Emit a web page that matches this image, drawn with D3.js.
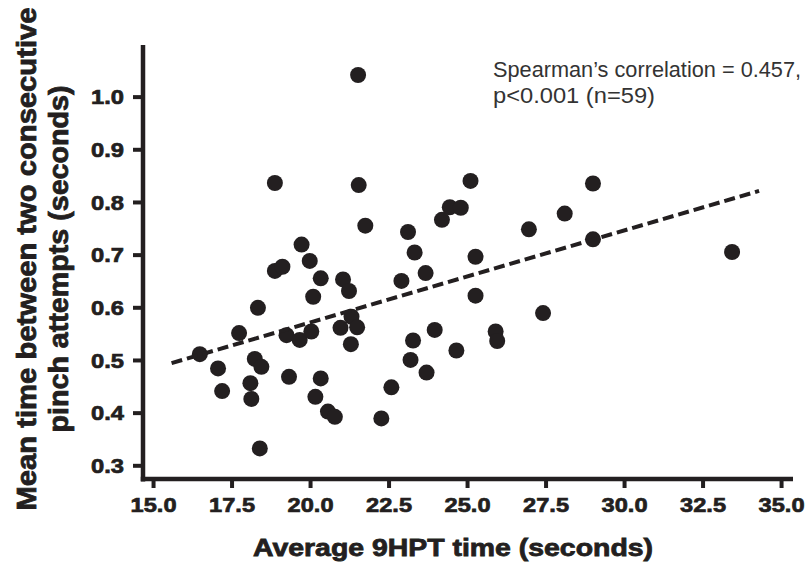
<!DOCTYPE html>
<html>
<head>
<meta charset="utf-8">
<script src="https://cdn.jsdelivr.net/npm/d3@7"></script>
<style>
  html, body { margin: 0; padding: 0; background: #fff; }
  svg { display: block; }
</style>
</head>
<body>
<svg id="chart" width="809" height="564"></svg>
<script>
// ---- data ----
const xValues = [21.53, 18.88, 21.55, 21.76, 19.73, 19.99, 18.88, 19.12, 20.34, 21.05,
                 21.24, 20.10, 22.91, 16.49, 17.74, 18.34, 17.07, 17.20, 18.24, 18.45,
                 18.10, 18.13, 18.40, 19.25, 19.67, 20.04, 19.33, 20.17, 20.34, 20.57,
                 20.79, 22.27, 22.59, 20.97, 21.32, 21.50, 21.30, 25.11, 29.01, 24.45,
                 24.80, 24.20, 23.12, 28.11, 26.97, 23.33, 25.27, 29.01, 23.68, 25.27,
                 27.42, 25.91, 25.96, 23.97, 23.28, 24.66, 23.20, 23.71, 33.44];
const yValues = [1.041, 0.836, 0.832, 0.755, 0.719, 0.688, 0.669, 0.677, 0.655, 0.653,
                 0.631, 0.620, 0.650, 0.511, 0.551, 0.599, 0.484, 0.441, 0.502, 0.487,
                 0.456, 0.426, 0.332, 0.547, 0.538, 0.554, 0.468, 0.430, 0.465, 0.402,
                 0.392, 0.389, 0.448, 0.561, 0.582, 0.562, 0.530, 0.840, 0.835, 0.790,
                 0.789, 0.766, 0.743, 0.778, 0.748, 0.704, 0.696, 0.729, 0.665, 0.622,
                 0.589, 0.554, 0.536, 0.557, 0.537, 0.518, 0.500, 0.476, 0.705];
const trendX = [15.59, 34.30];
const trendY = [0.494, 0.821];
const xTicks = [15.0, 17.5, 20.0, 22.5, 25.0, 27.5, 30.0, 32.5, 35.0];
const yTicks = [0.3, 0.4, 0.5, 0.6, 0.7, 0.8, 0.9, 1.0];
const xTitle = "Average 9HPT time (seconds)";
const yTitleLines = ["Mean time between two consecutive", "pinch attempts (seconds)"];
const noteLines = ["Spearman\u2019s correlation = 0.457,", "p<0.001 (n=59)"];

// ---- drawing ----
const ink = "#231f20";
const svg = d3.select("#chart");
const x = d3.scaleLinear().domain([14.68, 35.38]).range([143, 793]);
const y = d3.scaleLinear().domain([0.274, 1.098]).range([479, 45]);
const fmt = d3.format(".1f");
const boldFont = "'Liberation Sans', Arial, Helvetica, sans-serif";

// axes
const gx = svg.append("g").attr("transform", `translate(0,${y.range()[0]})`)
  .call(d3.axisBottom(x).tickValues(xTicks).tickFormat(fmt).tickSize(9).tickSizeOuter(0));
const gy = svg.append("g").attr("transform", `translate(${x.range()[0]},0)`)
  .call(d3.axisLeft(y).tickValues(yTicks).tickFormat(fmt).tickSize(10).tickSizeOuter(0));
[gx, gy].forEach(g => {
  g.select(".domain").remove();
  g.selectAll(".tick line").attr("stroke", ink).attr("stroke-width", 4);
  g.selectAll(".tick text")
    .attr("fill", ink)
    .attr("stroke", ink).attr("stroke-width", 0.7)
    .style("font-family", boldFont)
    .style("font-weight", "bold")
    .style("font-size", "21px");
});
gx.selectAll(".tick text").attr("y", 33).attr("dy", null)
  .attr("textLength", 46).attr("lengthAdjust", "spacingAndGlyphs");
gy.selectAll(".tick text").attr("x", -19).attr("dy", "0.35em")
  .attr("textLength", 33).attr("lengthAdjust", "spacingAndGlyphs");

// axis lines
svg.append("line")
  .attr("x1", x.range()[0]).attr("x2", x.range()[0])
  .attr("y1", y.range()[1]).attr("y2", y.range()[0] + 2.5)
  .attr("stroke", ink).attr("stroke-width", 4.5);
svg.append("line")
  .attr("x1", x.range()[0] - 2.25).attr("x2", x.range()[1])
  .attr("y1", y.range()[0]).attr("y2", y.range()[0])
  .attr("stroke", ink).attr("stroke-width", 4.5);

// points
const pts = xValues.map((v, i) => ({ x: v, y: yValues[i] }));
svg.append("g").selectAll("circle").data(pts).join("circle")
  .attr("cx", d => x(d.x)).attr("cy", d => y(d.y)).attr("r", 8)
  .attr("fill", ink);

// trend line
svg.append("path")
  .datum(trendX.map((v, i) => [v, trendY[i]]))
  .attr("d", d3.line().x(d => x(d[0])).y(d => y(d[1])))
  .attr("fill", "none").attr("stroke", ink)
  .attr("stroke-width", 4).attr("stroke-dasharray", "11,5");

// titles
svg.append("text")
  .attr("x", 453).attr("y", 556).attr("text-anchor", "middle")
  .attr("fill", ink).attr("stroke", ink).attr("stroke-width", 0.8)
  .style("font-family", boldFont).style("font-weight", "bold").style("font-size", "24px")
  .attr("textLength", 400).attr("lengthAdjust", "spacingAndGlyphs")
  .text(xTitle);

const yt = svg.append("g").attr("transform", "rotate(-90)");
const ytPos = [36, 68];
const ytLen = [503, 347];
yTitleLines.forEach((t, i) => {
  yt.append("text")
    .attr("x", -259).attr("y", ytPos[i]).attr("text-anchor", "middle")
    .attr("fill", ink).attr("stroke", ink).attr("stroke-width", 0.8)
    .style("font-family", boldFont).style("font-weight", "bold").style("font-size", "27px")
    .attr("textLength", ytLen[i]).attr("lengthAdjust", "spacingAndGlyphs")
    .text(t);
});

// annotation
const notePos = [77, 103];
const noteLen = [308, 162];
noteLines.forEach((t, i) => {
  svg.append("text")
    .attr("x", 493).attr("y", notePos[i])
    .attr("fill", "#333")
    .style("font-family", "'Liberation Sans Narrow', 'Liberation Sans', Arial, sans-serif")
    .style("font-size", "21.5px")
    .attr("textLength", noteLen[i]).attr("lengthAdjust", "spacingAndGlyphs")
    .text(t);
});
</script>
</body>
</html>
